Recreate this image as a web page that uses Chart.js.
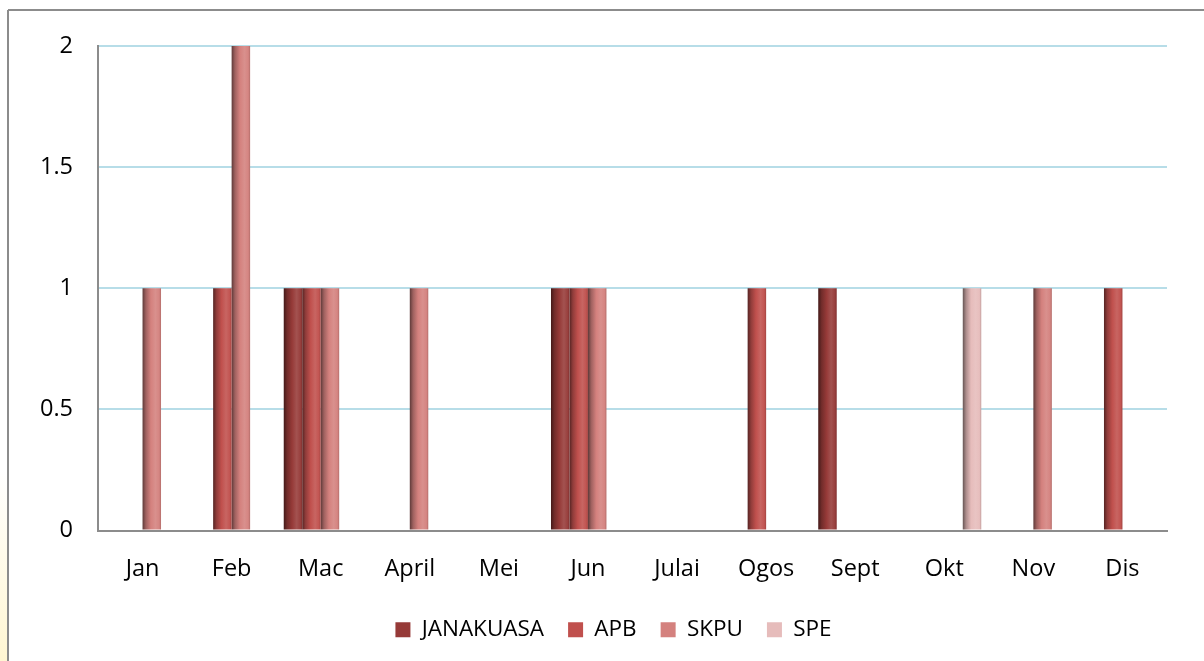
<!DOCTYPE html>
<html><head><meta charset="utf-8">
<script src="https://cdn.jsdelivr.net/npm/chart.js@4/dist/chart.umd.min.js"></script>
<style>html,body{margin:0;padding:0;background:#fff;overflow:hidden;} #wrap{width:1204px;height:661px;position:relative;}</style>
</head><body><div id="wrap"><canvas id="c" width="1204" height="661"></canvas></div>
<script>
const months = ['Jan','Feb','Mac','April','Mei','Jun','Julai','Ogos','Sept','Okt','Nov','Dis'];
const seriesNames = ['JANAKUASA','APB','SKPU','SPE'];
const janakuasa = [0,0,1,0,0,1,0,0,1,0,0,0];
const apb       = [0,1,1,0,0,1,0,1,0,0,0,1];
const skpu      = [1,2,1,1,0,1,0,0,0,0,1,0];
const spe       = [0,0,0,0,0,0,0,0,0,1,0,0];
const yTickLabels = ['0','0.5','1','1.5','2'];
const seriesColors = ['#963a38','#c0504d','#d4817e','#e6bcbb'];

const FONT = {family:"'Open Sans', sans-serif", size:22.5};
const TICKFONT = {family:"'Open Sans', sans-serif", size:23.5};

function shade(hex, f){
  const n = parseInt(hex.slice(1),16);
  let r = n>>16, g = (n>>8)&255, b = n&255;
  if (f < 0) { r *= 1+f; g *= 1+f; b *= 1+f; }
  else { r += (255-r)*f; g += (255-g)*f; b += (255-b)*f; }
  return 'rgb(' + Math.round(r) + ',' + Math.round(g) + ',' + Math.round(b) + ')';
}

const cylinder = {
  id: 'cylinder',
  beforeDatasetsDraw(chart){
    const ctx = chart.ctx;
    chart.data.datasets.forEach((ds, di) => {
      const meta = chart.getDatasetMeta(di);
      meta.data.forEach(el => {
        const half = el.width/2, l = el.x-half, r = el.x+half;
        const g = ctx.createLinearGradient(l,0,r,0);
        const c = ds.backgroundColor;
        g.addColorStop(0, shade(c,-0.55));
        g.addColorStop(0.18, shade(c,-0.25));
        g.addColorStop(0.45, shade(c,0));
        g.addColorStop(0.7, shade(c,0.12));
        g.addColorStop(0.9, shade(c,0.03));
        g.addColorStop(1, shade(c,-0.15));
        el.options = Object.assign({}, el.options, {backgroundColor: g});
      });
    });
  }
};

const frame = {
  id: 'frame',
  afterLayout(chart){
    const lg = chart.legend;
    if (lg) { lg.left += 20; lg.right += 20; }
  },
  beforeDraw(chart){
    const ctx = chart.ctx;
    ctx.save();
    ctx.fillStyle = '#fff';
    ctx.fillRect(0,0,chart.width,chart.height);
    const yg = ctx.createLinearGradient(0,470,0,661);
    yg.addColorStop(0,'rgba(255,246,210,0)');
    yg.addColorStop(1,'rgba(255,246,210,1)');
    ctx.fillStyle = yg;
    ctx.fillRect(0,470,7,191);
    ctx.strokeStyle = '#8c8c8c';
    ctx.lineWidth = 2;
    ctx.beginPath();
    ctx.moveTo(8,10); ctx.lineTo(1204,10);
    ctx.moveTo(8,10); ctx.lineTo(8,661);
    ctx.stroke();
    ctx.restore();
  }
};

const datasets = [janakuasa, apb, skpu, spe].map((d,i) => ({
  label: seriesNames[i],
  data: d,
  backgroundColor: seriesColors[i],
  borderWidth: 0,
  categoryPercentage: 0.83,
  barPercentage: 1.0
}));

new Chart(document.getElementById('c'), {
  type: 'bar',
  data: { labels: months, datasets },
  plugins: [frame, cylinder],
  options: {
    responsive: false,
    devicePixelRatio: 1,
    animation: false,
    layout: { padding: { left: 20, right: 37, top: 46, bottom: 10 } },
    plugins: {
      tooltip: { enabled: false },
      legend: {
        position: 'bottom',
        labels: { boxWidth: 15, boxHeight: 15, padding: 24, color: '#000', font: FONT }
      }
    },
    scales: {
      x: {
        grid: { display: false, drawTicks: false },
        border: { color: '#8c8c8c', width: 2 },
        ticks: { color: '#000', font: TICKFONT, padding: 25, maxRotation: 0 },
        afterFit(s){ s.height = 64; }
      },
      y: {
        min: 0, max: 2,
        ticks: { stepSize: 0.5, padding: 25, color: '#000', font: TICKFONT,
                 callback: (v, i) => yTickLabels[i] },
        grid: { drawTicks: false, lineWidth: 2,
                color: c => (c.tick && c.tick.value === 0) ? 'rgba(0,0,0,0)' : '#b7dde8' },
        border: { color: '#8c8c8c', width: 2 },
        afterFit(s){ s.width = 78; }
      }
    }
  }
});
</script>
</body></html>
